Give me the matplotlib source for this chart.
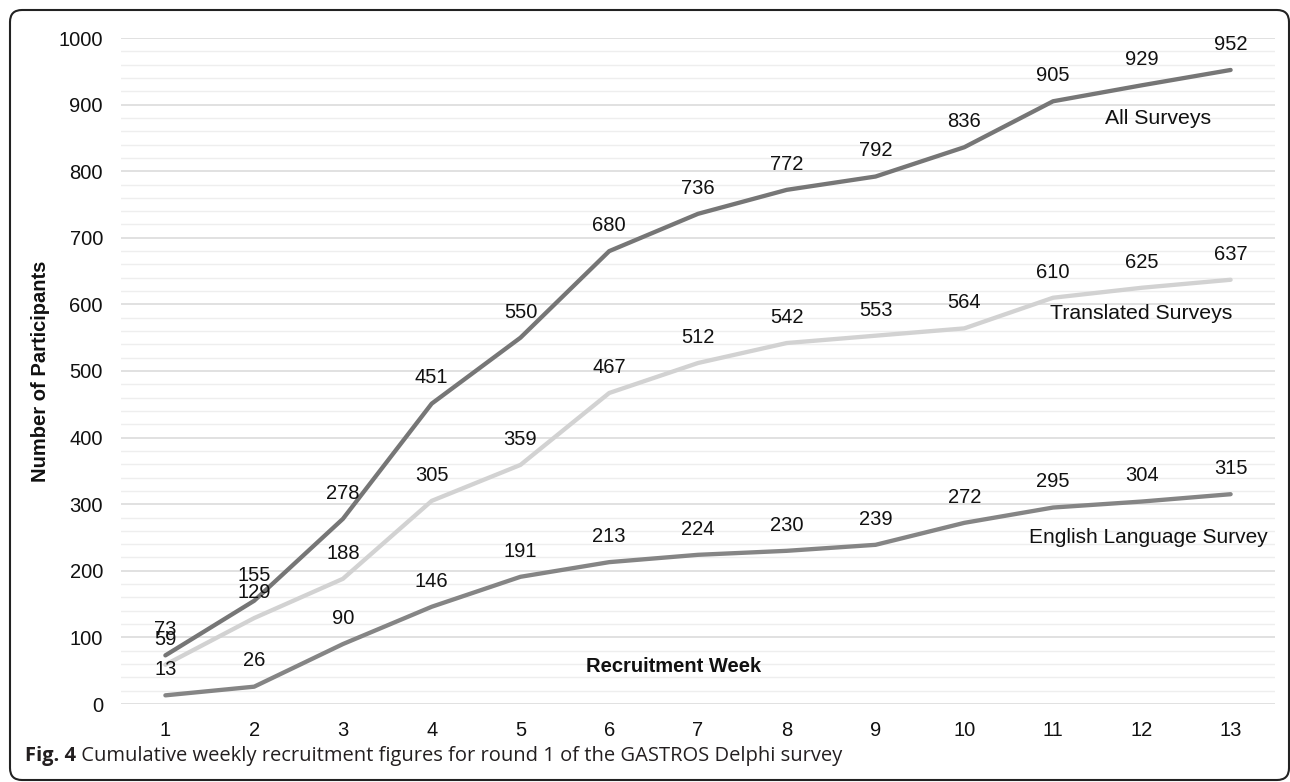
import matplotlib
matplotlib.use("Agg")
import matplotlib.pyplot as plt
from matplotlib.patches import FancyBboxPatch
from matplotlib.ticker import MultipleLocator

# cumulative participants per recruitment week
weeks = list(range(1, 14))
all_surveys = [73, 155, 278, 451, 550, 680, 736, 772, 792, 836, 905, 929, 952]
translated = [59, 129, 188, 305, 359, 467, 512, 542, 553, 564, 610, 625, 637]
english = [13, 26, 90, 146, 191, 213, 224, 230, 239, 272, 295, 304, 315]

plt.rcParams["font.family"] = ["Liberation Sans", "DejaVu Sans"]

fig = plt.figure(figsize=(12.9, 7.82), dpi=100)
ax = fig.add_axes([121 / 1290, 78 / 782, 1154 / 1290, 666 / 782])

series = [
    (all_surveys, "#767676"),
    (translated, "#d2d2d2"),
    (english, "#858585"),
]
for vals, col in series:
    ax.plot(weeks, vals, color=col, lw=3.1, solid_capstyle="round", solid_joinstyle="round", zorder=3)
    for w, v in zip(weeks, vals):
        ax.annotate(str(v), (w, v), xytext=(0, 18.5), textcoords="offset points",
                    ha="center", va="center", fontsize=14.5, color="#111111", zorder=4)

# series names written next to the lines
ax.text(12.18, 879, "All Surveys", ha="center", va="center", fontsize=15.3, color="#111111")
ax.text(11.99, 586, "Translated Surveys", ha="center", va="center", fontsize=15.3, color="#111111")
ax.text(12.07, 250, "English Language Survey", ha="center", va="center", fontsize=15, color="#111111")

ax.text(6.73, 57, "Recruitment Week", ha="center", va="center", fontsize=14.5,
        fontweight="bold", color="#111111")

ax.set_xlim(0.5, 13.5)
ax.set_ylim(0, 1000)
ax.set_xticks(weeks)
ax.yaxis.set_major_locator(MultipleLocator(100))
ax.yaxis.set_minor_locator(MultipleLocator(20))
ax.grid(axis="y", which="major", color="#d9d9d9", lw=1.1, zorder=0)
ax.grid(axis="y", which="minor", color="#eeeeee", lw=1.0, zorder=0)
ax.tick_params(axis="both", which="both", length=0, labelsize=14.5, labelcolor="#111111")
ax.tick_params(axis="y", pad=13)
ax.tick_params(axis="x", pad=12)
for s in ax.spines.values():
    s.set_visible(False)

ax.set_ylabel("Number of Participants", fontsize=14.5, fontweight="bold", color="#111111")
ax.yaxis.set_label_coords(-0.0615, 0.5)

# rounded frame round the figure
box = FancyBboxPatch((10, 2), 1279, 770, boxstyle="round,pad=0,rounding_size=12",
                     transform=None, fill=False, ec="#222222", lw=1.5)
fig.patches.append(box)

cap = fig.text(25 / 1290, 26 / 782, "Fig. 4", fontsize=14.5, fontweight="bold",
               family=["Open Sans", "DejaVu Sans"], color="#231f20", va="center")
ax.annotate(" Cumulative weekly recruitment figures for round 1 of the GASTROS Delphi survey",
            xy=(1, 0.5), xycoords=cap, va="center", ha="left", fontsize=14.5,
            family=["Open Sans", "DejaVu Sans"], color="#231f20", annotation_clip=False)

fig.savefig("out.png", dpi=100)
